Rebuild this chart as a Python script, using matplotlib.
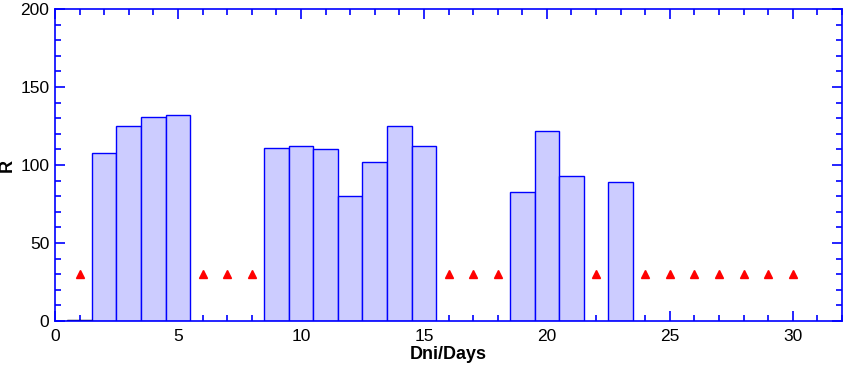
import numpy as np
import matplotlib.pyplot as plt
from matplotlib.ticker import MultipleLocator

# Daily values (days without a bar are left out)
bar_days = [2, 3, 4, 5, 9, 10, 11, 12, 13, 14, 15, 19, 20, 21, 23]
bar_values = [108, 125, 131, 132, 111, 112, 110, 80, 102, 125, 112, 83, 122, 93, 89]

# Day 1 has only a very small value
small_days = [1]
small_values = [0.6]

# Days marked with a triangle
marker_days = [1, 6, 7, 8, 16, 17, 18, 22, 24, 25, 26, 27, 28, 29, 30]
marker_values = [30] * len(marker_days)

plt.rcParams['font.family'] = ['Liberation Sans', 'DejaVu Sans']

fig = plt.figure(figsize=(8.43, 3.66), dpi=100)
ax = fig.add_axes([55 / 843, 45 / 366, 787 / 843, 312 / 366])

ax.bar(bar_days, bar_values, width=1.0, color='#CCCCFF', edgecolor='blue', linewidth=1.0, zorder=2)
ax.bar(small_days, small_values, width=1.0, color='black', edgecolor='black', linewidth=1.0, zorder=2)
ax.plot(marker_days, marker_values, linestyle='none', marker='^', color='red', markersize=6, zorder=3)

ax.set_xlim(0, 32)
ax.set_ylim(0, 200)
ax.xaxis.set_major_locator(MultipleLocator(5))
ax.xaxis.set_minor_locator(MultipleLocator(1))
ax.yaxis.set_major_locator(MultipleLocator(50))
ax.yaxis.set_minor_locator(MultipleLocator(10))

for side in ax.spines.values():
    side.set_color('blue')
    side.set_linewidth(1.2)

ax.tick_params(which='both', direction='in', top=True, right=True, colors='blue',
               labelcolor='black', labelsize=12.5, width=1.2)
ax.tick_params(axis='y', pad=4)
ax.tick_params(axis='x', pad=6)
ax.tick_params(which='major', length=7)
ax.tick_params(which='minor', length=4)

ax.set_xlabel('Dni/Days', fontsize=13, fontweight='bold', labelpad=1)
ax.set_ylabel('R', fontsize=13, fontweight='bold', labelpad=3)

plt.savefig('out.png', dpi=100)
